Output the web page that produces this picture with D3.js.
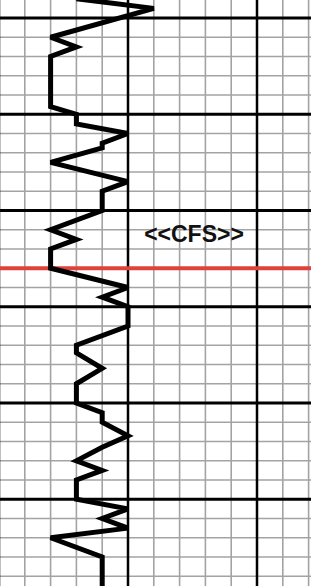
<!DOCTYPE html>
<html>
<head>
<meta charset="utf-8">
<script src="https://cdn.jsdelivr.net/npm/d3@7"></script>
<style>
  body { margin: 0; background: #fff; }
  svg { display: block; }
</style>
</head>
<body>
<div id="recorder"></div>
<script>
// chart paper: value across (minor divisions), time down (minor divisions)
var traceTime = [-1, -0.5, 1, 1.5, 2, 4.6, 5, 5.5, 6, 6.5, 6.75, 7.5, 8.5, 9, 10, 11, 11.5, 12, 13, 14,
                 14.5, 15, 16, 17, 17.4, 18.2, 19, 20, 20.5, 21, 21.7, 22.3, 23, 23.5, 24, 25, 25.5, 26,
                 26.5, 27, 28, 29.6];
var traceValue = [3, 6, 2, 3, 2, 2, 3, 3, 5, 4, 4, 2, 5, 4, 4, 2, 3, 2, 2, 5,
                  4, 5, 5, 3, 3, 4, 3, 3, 4, 4, 5, 4, 3, 4, 3, 3, 5, 4,
                  5, 2, 4, 4];
var valueTicks = d3.range(0, 13);      // vertical rulings
var timeTicks = d3.range(-1, 30);      // horizontal rulings
var majorEvery = 5;
var markerTime = 13;                   // red line
var label = '<<CFS>>';

var width = 311, height = 586;

var svg = d3.select('#recorder').append('svg')
    .attr('width', width)
    .attr('height', height);

svg.append('rect')
    .attr('width', width)
    .attr('height', height)
    .attr('fill', '#fff');

var xScale = d3.scaleLinear()
    .domain([0, 10])
    .range([-1, 257]);

var yScale = d3.scaleLinear()
    .domain([0, 25])
    .range([18, 499.25]);

// minor grid
svg.append('g')
    .selectAll('line')
    .data(valueTicks.filter(d => d % majorEvery !== 0))
    .enter().append('line')
    .attr('x1', d => xScale(d)).attr('x2', d => xScale(d))
    .attr('y1', 0).attr('y2', height)
    .attr('stroke', '#a3a3a3')
    .attr('stroke-width', 1.6);

svg.append('g')
    .selectAll('line')
    .data(timeTicks.filter(d => d % majorEvery !== 0 && d !== markerTime))
    .enter().append('line')
    .attr('y1', d => yScale(d)).attr('y2', d => yScale(d))
    .attr('x1', 0).attr('x2', width)
    .attr('stroke', '#a3a3a3')
    .attr('stroke-width', 1.6);

// major grid
svg.append('g')
    .selectAll('line')
    .data(timeTicks.filter(d => d % majorEvery === 0))
    .enter().append('line')
    .attr('y1', d => yScale(d)).attr('y2', d => yScale(d))
    .attr('x1', 0).attr('x2', width)
    .attr('stroke', '#000')
    .attr('stroke-width', 3);

svg.append('g')
    .selectAll('line')
    .data(valueTicks.filter(d => d % majorEvery === 0))
    .enter().append('line')
    .attr('x1', d => xScale(d)).attr('x2', d => xScale(d))
    .attr('y1', 0).attr('y2', height)
    .attr('stroke', '#000')
    .attr('stroke-width', 2.5);

// red marker line
svg.append('line')
    .attr('x1', 0).attr('x2', width)
    .attr('y1', yScale(markerTime)).attr('y2', yScale(markerTime))
    .attr('stroke', '#e0413c')
    .attr('stroke-width', 4);

svg.append('text')
    .attr('x', 194)
    .attr('y', 242)
    .attr('text-anchor', 'middle')
    .attr('font-family', 'Liberation Sans, Arial, sans-serif')
    .attr('font-weight', 'bold')
    .attr('font-size', 23)
    .attr('fill', '#111')
    .text(label);

// the pen trace
var line = d3.line()
    .x(d => xScale(d[1]))
    .y(d => yScale(d[0]));

svg.append('path')
    .datum(d3.zip(traceTime, traceValue))
    .attr('d', line)
    .attr('fill', 'none')
    .attr('stroke', '#000')
    .attr('stroke-width', 5)
    .attr('stroke-linejoin', 'miter')
    .attr('stroke-miterlimit', 3);
</script>
</body>
</html>
